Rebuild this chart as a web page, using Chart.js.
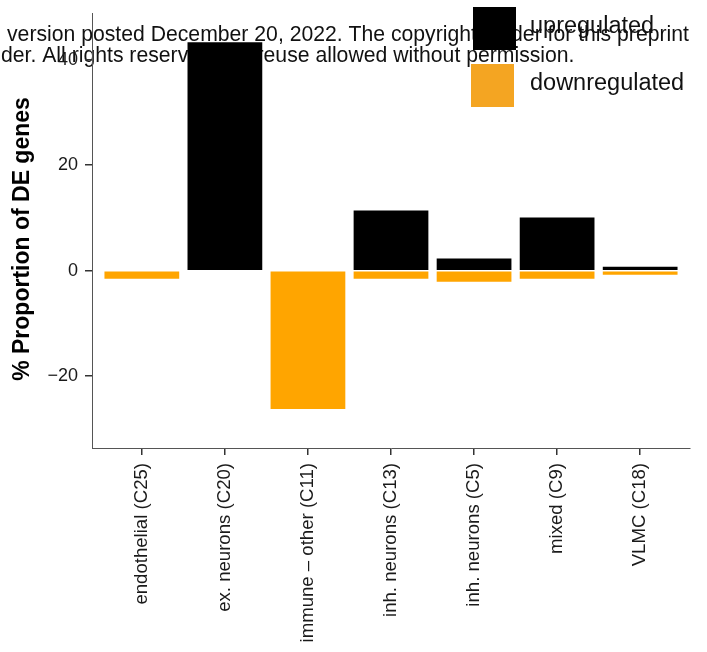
<!DOCTYPE html>
<html>
<head>
<meta charset="utf-8">
<title>% Proportion of DE genes</title>
<script src="https://cdn.jsdelivr.net/npm/chart.js@4.4.0/dist/chart.umd.min.js"></script>
<style>
  body { margin: 0; background: #fff; }
  #wrap { width: 707px; height: 652px; }
</style>
</head>
<body>
<div id="wrap"><canvas id="deChart" width="707" height="652"></canvas></div>
<script>
// データ
const categories = [
  'endothelial (C25)',
  'ex. neurons (C20)',
  'immune \u2013 other (C11)',
  'inh. neurons (C13)',
  'inh. neurons (C5)',
  'mixed (C9)',
  'VLMC (C18)',
];
const upregulated = [0, 43.3, 0, 11.4, 2.3, 10.1, 0.75];
const downregulated = [-1.5, 0, -26.2, -1.5, -2.1, -1.5, -0.75];
const yTickValues = [-20, 0, 20, 40];
const seriesNames = ['upregulated', 'downregulated'];
const yTitle = '% Proportion of DE genes';

// preprint の透かし文字
const watermarkLines = [
  'version posted December 20, 2022. The copyright holder for this preprint',
  'der. All rights reserved. No reuse allowed without permission.',
];

const FONT = '"Liberation Sans", Arial, Helvetica, sans-serif';
const UP_COLOR = '#000000';
const DOWN_COLOR = '#FFA500';
const LEGEND_DOWN = '#F4A522';

// 背面に透かしを描く（軸・棒より先）
const watermarkPlugin = {
  id: 'watermark',
  beforeDraw(chart) {
    const c = chart.ctx;
    c.save();
    c.fillStyle = '#111';
    c.font = '21.2px ' + FONT;
    c.textBaseline = 'alphabetic';
    c.fillText(watermarkLines[0], 7, 41);
    c.fillText(watermarkLines[1], 1, 62);
    c.restore();
  },
};

// y軸タイトル（ggplot の位置に合わせて少し下げる）
const yTitlePlugin = {
  id: 'yTitle',
  afterDraw(chart) {
    const c = chart.ctx;
    c.save();
    c.translate(23, 239);
    c.rotate(-Math.PI / 2);
    c.font = 'bold 23px ' + FONT;
    c.fillStyle = '#000';
    c.textAlign = 'center';
    c.textBaseline = 'middle';
    c.fillText(yTitle, 0, 0);
    c.restore();
  },
};

// 右上の凡例（ggplot 風の大きい四角）
const legendPlugin = {
  id: 'bigLegend',
  afterDraw(chart) {
    const c = chart.ctx;
    const boxes = [
      { x: 473, y: 7, color: UP_COLOR },
      { x: 471, y: 64, color: LEGEND_DOWN },
    ];
    c.save();
    c.font = '23.5px ' + FONT;
    c.textBaseline = 'middle';
    boxes.forEach((b, i) => {
      c.fillStyle = b.color;
      c.fillRect(b.x, b.y, 43, 43);
      c.fillStyle = '#111';
      c.fillText(chart.data.datasets[i].label, 530, b.y + 20);
    });
    c.restore();
  },
};

const ctx = document.getElementById('deChart').getContext('2d');
const deChart = new Chart(ctx, {
  type: 'bar',
  data: {
    datasets: [
      {
        label: seriesNames[0],
        data: upregulated.map((v, i) => ({ x: i, y: v })),
        backgroundColor: UP_COLOR,
      },
      {
        label: seriesNames[1],
        data: downregulated.map((v, i) => ({ x: i, y: v })),
        backgroundColor: DOWN_COLOR,
      },
    ],
  },
  options: {
    responsive: false,
    animation: false,
    layout: { padding: { left: 0, top: 13, right: 17, bottom: 0 } },
    datasets: { bar: { barPercentage: 1, categoryPercentage: 0.9 } },
    plugins: {
      legend: { display: false },
      tooltip: { enabled: false },
    },
    scales: {
      x: {
        type: 'linear',
        stacked: true,
        offset: false,
        min: -0.6,
        max: 6.6,
        afterBuildTicks: (scale) => {
          scale.ticks = categories.map((c, i) => ({ value: i }));
        },
        afterFit: (scale) => { scale.height = 204; },
        ticks: {
          callback: (v) => categories[v],
          minRotation: 90,
          maxRotation: 90,
          padding: 8,
          color: '#1a1a1a',
          font: { family: FONT, size: 18.6 },
        },
        grid: { offset: false, drawOnChartArea: false, drawTicks: true, tickLength: 7, color: '#333', lineWidth: 1.5 },
        border: { display: true, color: '#555', width: 1 },
      },
      y: {
        stacked: true,
        min: -33.6,
        max: 48.85,
        afterBuildTicks: (scale) => {
          scale.ticks = yTickValues.map((v) => ({ value: v }));
        },
        afterFit: (scale) => {
          scale.width = 92;
          // 上下の余白はレイアウト側で決める
          scale.paddingTop = 0;
          scale.paddingBottom = 0;
        },
        ticks: {
          callback: (v) => (v < 0 ? '\u2212' + Math.abs(v) : String(v)),
          padding: 7,
          color: '#1a1a1a',
          font: { family: FONT, size: 18 },
        },
        grid: { drawOnChartArea: false, drawTicks: true, tickLength: 7, color: '#333', lineWidth: 1.5 },
        border: { display: true, color: '#555', width: 1 },
      },
    },
  },
  plugins: [watermarkPlugin, yTitlePlugin, legendPlugin],
});
</script>
</body>
</html>
